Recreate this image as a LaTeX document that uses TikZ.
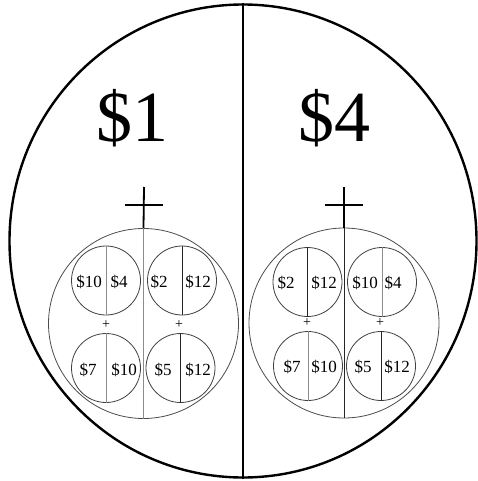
\documentclass[tikz,border=0pt]{standalone}
\usepackage{fontspec}
\setmainfont{Liberation Serif}
\usetikzlibrary{shapes.geometric}
\begin{document}
\begin{tikzpicture}[
        x=1pt, y=-1pt,
        pot/.style={ellipse, draw, line width=2.4pt, minimum width=467pt, minimum height=473pt, inner sep=0pt},
        bag/.style={circle, draw=black!70, line width=0.8pt, minimum size=190pt, inner sep=0pt},
        coin/.style={circle, draw=black!75, line width=0.8pt, minimum size=69pt, inner sep=0pt},
        amount/.style={font=\fontsize{72}{72}\selectfont, inner sep=0pt, anchor=base},
        prize/.style={font=\fontsize{17}{17}\selectfont, inner sep=0pt},
        plus/.style={font=\fontsize{14}{14}\selectfont, inner sep=0pt},
        dark/.style={line width=0.9pt, black!85},
        pale/.style={line width=0.9pt, black!45},
        cross/.style={line width=1.8pt}
    ]
        \useasboundingbox (0,0) rectangle (478,481);
        % Nodes
        \node (pot) [pot] at (243,241) {};
        \node (amtL) [amount] at (132,142) {\$1};
        \node (amtR) [amount] at (334,142) {\$4};

        \node (bagL) [bag] at (143.5,323.5) {};
        \node (bagR) [bag] at (344,323) {};

        \node (cLa) [coin] at (106,280.5) {};
        \node (cLb) [coin] at (182,280.5) {};
        \node (cLc) [coin] at (106,368) {};
        \node (cLd) [coin] at (180.5,368) {};

        \node (cRa) [coin] at (307.5,282) {};
        \node (cRb) [coin] at (382,282) {};
        \node (cRc) [coin] at (308,366) {};
        \node (cRd) [coin] at (381,366) {};

        \coordinate (topL) at (144,187);
        \coordinate (topR) at (344,187);
        \coordinate (barLw) at (125,205);
        \coordinate (barLe) at (163,205);
        \coordinate (barRw) at (325,205);
        \coordinate (barRe) at (363,205);

        % Labels
        \node (pLa) [prize] at (89,282) {\$10};
        \node (pLb) [prize] at (119,282) {\$4};
        \node (pLc) [prize] at (159,282) {\$2};
        \node (pLd) [prize] at (198,282) {\$12};
        \node (pLe) [prize] at (88,370) {\$7};
        \node (pLf) [prize] at (124,370) {\$10};
        \node (pLg) [prize] at (163,370) {\$5};
        \node (pLh) [prize] at (198,370) {\$12};

        \node (pRa) [prize] at (286,283) {\$2};
        \node (pRb) [prize] at (324,283) {\$12};
        \node (pRc) [prize] at (365,283) {\$10};
        \node (pRd) [prize] at (393,283) {\$4};
        \node (pRe) [prize] at (292,367) {\$7};
        \node (pRf) [prize] at (324,367) {\$10};
        \node (pRg) [prize] at (363,367) {\$5};
        \node (pRh) [prize] at (397,367) {\$12};

        \node (sLa) [plus] at (106,325) {+};
        \node (sLb) [plus] at (179,325) {+};
        \node (sRa) [plus] at (307,323) {+};
        \node (sRb) [plus] at (380,323) {+};

        % Lines
        \draw [line width=2.4pt] (pot.north) -- (pot.south);

        \draw [cross] (barLw) -- (barLe);
        \draw [cross] (topL) -- (bagL.north);
        \draw [cross] (barRw) -- (barRe);
        \draw [cross] (topR) -- (bagR.north);

        \draw [pale] (bagL.north) -- (bagL.south);
        \draw [pale] (cLa.north) -- (cLa.south);
        \draw [dark] (cLb.north) -- (cLb.south);
        \draw [pale] (cLc.north) -- (cLc.south);
        \draw [dark] (cLd.north) -- (cLd.south);

        \draw [dark] (bagR.north) -- (bagR.south);
        \draw [dark] (cRa.north) -- (cRa.south);
        \draw [pale] (cRb.north) -- (cRb.south);
        \draw [pale] (cRc.north) -- (cRc.south);
        \draw [dark] (cRd.north) -- (cRd.south);
    \end{tikzpicture}
\end{document}
